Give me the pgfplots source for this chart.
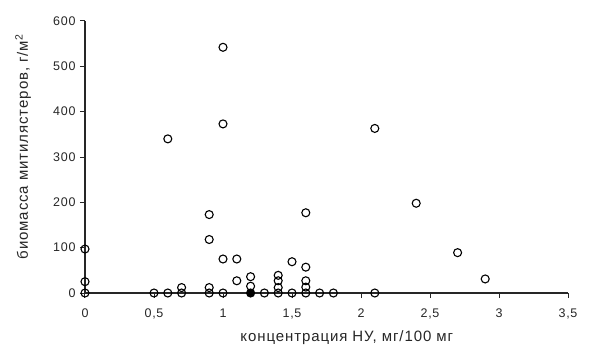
\documentclass[border=0pt]{standalone}
\usepackage{fontspec}
\setmainfont{Liberation Sans}
\usepackage{pgfplots}
\pgfplotsset{compat=1.18}
\begin{document}
\begin{tikzpicture}[x=1bp,y=1bp]
\begin{axis}[
  at={(0,0)}, anchor=origin,
  scale only axis,
  width=483bp, height=272bp,
  xmin=0, xmax=3.5, ymin=0, ymax=600,
  axis x line=bottom, axis y line=left,
  axis line style={-, line width=1.3bp, black!85},
  xtick={0,0.5,...,3.5}, ytick={0,100,...,600},
  tick align=outside, major tick length=5bp,
  tick style={line width=1bp, black!85},
  /pgf/number format/assume math mode=true,
  /pgf/number format/use comma,
  ticklabel style={font=\fontsize{12.5bp}{14bp}\selectfont\addfontfeature{LetterSpace=6}, black!85},
  xticklabel style={yshift=-7bp},
  yticklabel style={xshift=-1bp},
  clip=false,
  xlabel={\addfontfeature{LetterSpace=6}концентрация НУ, мг/100 мг},
  ylabel={\addfontfeature{LetterSpace=6}биомасса митилястеров, г/м\textsuperscript{2}},
  label style={font=\fontsize{15bp}{17bp}\selectfont, black!85},
  xlabel style={at={(axis description cs:0.542,-0.165)}, anchor=center},
  ylabel style={at={(axis description cs:-0.128,0.537)}, anchor=center},
]
\addplot[only marks, mark=o, mark size=4bp, mark options={line width=1.1bp, fill=white, draw=black}] coordinates {
 (0,0) (0,25) (0,97)
 (0.5,0)
 (0.6,0) (0.6,340)
 (0.7,0) (0.7,12)
 (0.9,0) (0.9,12) (0.9,118) (0.9,173)
 (1.0,0) (1.0,75) (1.0,373) (1.0,542)
 (1.1,27) (1.1,75)
 (1.2,15) (1.2,36)
 (1.3,0)
 (1.4,0) (1.4,12) (1.4,27) (1.4,39)
 (1.5,0) (1.5,69)
 (1.6,0) (1.6,13) (1.6,27) (1.6,57) (1.6,177)
 (1.7,0)
 (1.8,0)
 (2.1,0) (2.1,363)
 (2.4,198)
 (2.7,89)
 (2.9,31)
};
\addplot[only marks, mark=*, mark size=4bp, mark options={line width=1.1bp, fill=black, draw=black}] coordinates {
 (1.2,0)
};
\end{axis}
\path (-85,-60) rectangle (520,293);
\end{tikzpicture}
\end{document}
